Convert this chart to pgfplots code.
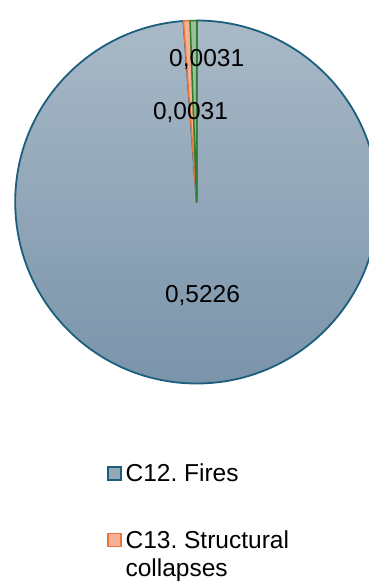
\documentclass[border=0pt]{standalone}
\usepackage{fontspec}
\setmainfont{Liberation Sans}
\usepackage{pgfplots}
\usepackage{pgfplotstable}
\pgfplotsset{compat=1.18}
\definecolor{pieTop}{HTML}{A9B9C7}
\definecolor{pieBottom}{HTML}{7A94AA}
\definecolor{pieBorder}{HTML}{1B5E7E}
\definecolor{orFill}{HTML}{F5B095}
\definecolor{orBorder}{HTML}{E8763A}
\definecolor{grFill}{HTML}{9DBE99}
\definecolor{grBorder}{HTML}{2E7D32}
\definecolor{legFill}{HTML}{95A8B8}

\pgfplotstableread{
label value
Fires 0.5226
Collapses 0.0031
Other 0.0031
}\piedata

\begin{document}
\frenchspacing
\begin{tikzpicture}[font=\fontsize{24.5}{28.2}\selectfont]
\pgfplotstablegetelem{0}{value}\of\piedata \let\va\pgfplotsretval
\pgfplotstablegetelem{1}{value}\of\piedata \let\vb\pgfplotsretval
\pgfplotstablegetelem{2}{value}\of\piedata \let\vc\pgfplotsretval
\pgfmathsetmacro\tot{\va+\vb+\vc}
\pgfmathsetmacro\aA{90}
\pgfmathsetmacro\aB{90-360*\va/\tot}
\pgfmathsetmacro\aC{\aB-360*\vb/\tot}
\pgfmathsetmacro\aD{\aC-360*\vc/\tot}
\def\pieR{181.5pt}
\begin{axis}[
  x=181.5pt, y=181.5pt,
  xmin=-1, xmax=1, ymin=-1, ymax=1,
  hide axis, clip=false,
  at={(196.7pt,383pt)}, anchor=center,
  legend image code/.code={\draw[line width=1.6pt,#1] (0.5pt,2pt) rectangle (13.5pt,15pt);},
  legend style={at={(axis description cs:0.2529,-0.2218)}, anchor=north west,
    draw=none, fill=none, inner sep=0pt, outer sep=0pt, row sep=45.5pt,
    cells={anchor=base west},
    nodes={inner xsep=4pt, inner ysep=0pt, font=\fontsize{24.5}{28.2}\selectfont}},
]
\addlegendimage{fill=legFill, draw=pieBorder}
\addlegendentry{C12. Fires}
\addlegendimage{fill=orFill, draw=orBorder}
\addlegendentry{\begin{tabular}[t]{@{}l@{}}C13. Structural\\collapses\end{tabular}}

\shadedraw[top color=pieTop, bottom color=pieBottom, draw=pieBorder, line width=1.8pt, line join=round]
  (axis cs:0,0) -- ++(\aA:\pieR) arc[start angle=\aA, end angle=\aB, radius=\pieR] -- cycle;
\filldraw[fill=orFill, draw=orBorder, line width=1.5pt, line join=round]
  (axis cs:0,0) -- ++(\aB:\pieR) arc[start angle=\aB, end angle=\aC, radius=\pieR] -- cycle;
\filldraw[fill=grFill, draw=grBorder, line width=1.5pt, line join=round]
  (axis cs:0,0) -- ++(\aC:\pieR) arc[start angle=\aC, end angle=\aD, radius=\pieR] -- cycle;

\node[anchor=base, inner sep=0pt] at (axis cs:0.0551,0.7438)
  {\pgfmathprintnumber[fixed, fixed zerofill, precision=4, use comma, assume math mode=true]{\vc}};
\node[anchor=base, inner sep=0pt] at (axis cs:-0.0342,0.4518)
  {\pgfmathprintnumber[fixed, fixed zerofill, precision=4, use comma, assume math mode=true]{\vb}};
\node[anchor=base, inner sep=0pt] at (axis cs:0.0320,-0.5526)
  {\pgfmathprintnumber[fixed, fixed zerofill, precision=4, use comma, assume math mode=true]{\va}};
\end{axis}
\pgfresetboundingbox
\useasboundingbox (0,0) rectangle (368pt,585pt);
\end{tikzpicture}
\end{document}
